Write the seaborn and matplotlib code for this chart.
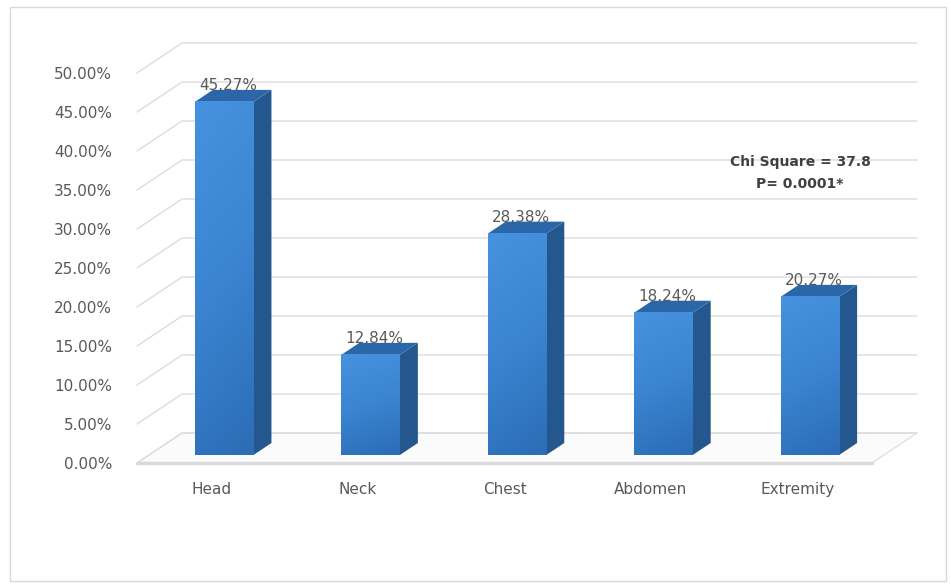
import numpy as np
import pandas as pd
import matplotlib
matplotlib.use("Agg")
import matplotlib.pyplot as plt
import seaborn as sns
from matplotlib.patches import Polygon, Rectangle
from matplotlib.transforms import offset_copy
from matplotlib.colors import LinearSegmentedColormap

# data
categories = ["Head", "Neck", "Chest", "Abdomen", "Extremity"]
percent = [45.27, 12.84, 28.38, 18.24, 20.27]
value_labels = ["45.27%", "12.84%", "28.38%", "18.24%", "20.27%"]
y_ticks = [0, 5, 10, 15, 20, 25, 30, 35, 40, 45, 50]
stat_lines = ["Chi Square = 37.8", "P= 0.0001*"]

sns.set_theme(style="white")
plt.rcParams["font.family"] = ["DejaVu Sans"]

W, H = 951, 586
fig = plt.figure(figsize=(W / 100, H / 100), dpi=100)
fig.patch.set_facecolor("white")

# front (label) plane: x 137..872 px, 0% at y=463 px, 7.8 px per %
ax = fig.add_axes([137 / W, (H - 463) / H, 735 / W, 429 / H])

df = pd.DataFrame({"part": categories, "pct": percent})
sns.barplot(data=df, x="part", y="pct", width=0.4, color="#3a86d4",
            errorbar=None, ax=ax, zorder=3)
bars = list(ax.patches)
ax.set_xlim(-0.51, 4.51)
ax.set_ylim(0, 55)
xl, xr = ax.get_xlim()

px_x = 735 / (xr - xl)
px_y = 429 / 55
dep_x, dep_y = 18 / px_x, 12 / px_y       # bar depth
back_x, back_y = 45 / px_x, 30 / px_y     # back wall offset

grid_c = "#dcdcdc"
# floor
ax.add_patch(Polygon([(xl, 0), (xr, 0), (xr + back_x, back_y), (xl + back_x, back_y)],
                     closed=True, facecolor="#fbfbfb", edgecolor="#e2e2e2",
                     lw=1, zorder=0.5, clip_on=False))
ax.plot([xl, xr], [0, 0], color="#d9d9d9", lw=2.5, zorder=0.6, clip_on=False)

# back wall gridlines with the slanted side wall lines
for v in y_ticks:
    ax.plot([xl, xl + back_x, xr + back_x], [v, v + back_y, v + back_y],
            color=grid_c, lw=1, zorder=1, clip_on=False)

tr_bar = offset_copy(ax.transData, fig=fig, x=12.5, y=8, units="dots")
cmap = LinearSegmentedColormap.from_list("front", ["#2c6db5", "#3a84d1", "#4792de"])
grad = np.linspace(0, 1, 100).reshape(-1, 1) * np.ones((1, 10))
grad = grad * 0.85 + 0.15 * (1 - np.linspace(0, 1, 10))[None, :]

for p in bars:
    p.set_transform(tr_bar)
    p.set_edgecolor("none")
    x0, w, h = p.get_x(), p.get_width(), p.get_height()
    ax.imshow(grad, cmap=cmap, origin="lower", aspect="auto",
              extent=(x0, x0 + w, 0, h), transform=tr_bar, zorder=3.2,
              interpolation="bilinear")
    side = Polygon([(x0 + w, 0), (x0 + w + dep_x, dep_y), (x0 + w + dep_x, h + dep_y),
                    (x0 + w, h)], closed=True, facecolor="#24578e",
                   edgecolor="none", transform=tr_bar, zorder=3.1)
    top = Polygon([(x0, h), (x0 + w, h), (x0 + w + dep_x, h + dep_y), (x0 + dep_x, h + dep_y)],
                  closed=True, facecolor="#2b66a8", edgecolor="none",
                  transform=tr_bar, zorder=3.1)
    ax.add_patch(side)
    ax.add_patch(top)

ax.set_xlim(xl, xr)
ax.set_ylim(0, 55)

for i, (v, lbl) in enumerate(zip(percent, value_labels)):
    ax.annotate(lbl, (i, v), xytext=(16.5 * 0.72, 20 * 0.72), textcoords="offset points",
                ha="center", va="baseline", fontsize=11, color="#595959", zorder=5)

ax.set_yticks(y_ticks)
ax.set_yticklabels([f"{v:.2f}%" for v in y_ticks])
ax.set_xticks(range(len(categories)))
ax.set_xticklabels(categories)
ax.tick_params(axis="y", length=0, pad=18, labelsize=11, labelcolor="#595959")
ax.tick_params(axis="x", length=0, pad=14, labelsize=11, labelcolor="#595959")
ax.set_xlabel("")
ax.set_ylabel("")
for s in ax.spines.values():
    s.set_visible(False)
ax.set_facecolor("none")

fig.text(800 / W, 1 - 162 / H, stat_lines[0], ha="center", va="center",
         fontsize=10, fontweight="bold", color="#404040")
fig.text(800 / W, 1 - 184 / H, stat_lines[1], ha="center", va="center",
         fontsize=10, fontweight="bold", color="#404040")

fig.patches.append(Rectangle((10 / W, 5 / H), 936 / W, 574 / H, transform=fig.transFigure,
                             fill=False, edgecolor="#d9d9d9", lw=1))

fig.savefig("out.png", dpi=100)
